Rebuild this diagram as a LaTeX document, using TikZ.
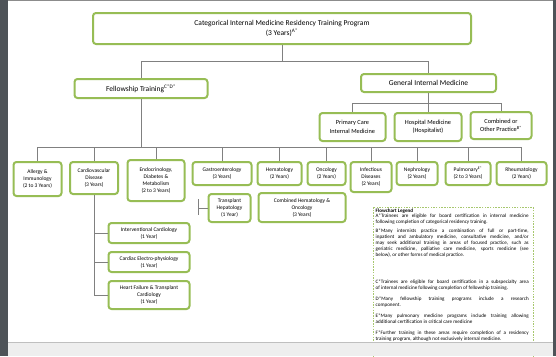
\documentclass[tikz,border=0pt]{standalone}
\usepackage{fontspec}
\setmainfont{Carlito}
\usetikzlibrary{calc}
\definecolor{gborder}{HTML}{97BD55}
\definecolor{conncol}{HTML}{808080}
\definecolor{darkbar}{HTML}{4E5358}
\definecolor{pagegrey}{HTML}{EEEEEE}
\tikzset{
  bx/.style={draw=gborder, line width=2pt, rounded corners=3pt, fill=white, inner sep=1pt, align=center, font=\fontsize{5.5}{7}\selectfont},
  bigbx/.style={bx, font=\fontsize{7.5}{9.5}\selectfont},
  midbx/.style={bx, font=\fontsize{6.3}{8.5}\selectfont},
  cn/.style={draw=conncol, line width=0.6pt},
  legbox/.style={draw=gborder!85, line width=0.6pt, dash pattern=on 1.5pt off 1.2pt},
  legpar/.style={anchor=north west, text width=153pt, align=justify, inner sep=0pt, font=\fontsize{5.1}{6.1}\selectfont},
}
\begin{document}
\begin{tikzpicture}[x=1pt,y=-1pt]
\useasboundingbox (0,0) rectangle (556,356);
\fill[white] (0,0) rectangle (556,356);

% top level
\node[bigbx, minimum width=378, minimum height=31] (top) at (282,28.5) {Categorical Internal Medicine Residency Training Program\\(3 Years)\textsuperscript{A*}};
\node[bigbx, minimum width=133, minimum height=19] (fell) at (141,88.5) {Fellowship Training\textsuperscript{C*D*}};
\node[bigbx, minimum width=135, minimum height=18] (gim) at (428.5,83) {General Internal Medicine};

% GIM children
\node[midbx, minimum width=66, minimum height=28] (prim) at (352.5,127) {Primary Care\\Internal Medicine};
\node[midbx, minimum width=67, minimum height=28] (hosp) at (428,127) {Hospital Medicine\\(Hospitalist)};
\node[midbx, minimum width=61, minimum height=27] (comb) at (501,125.5) {Combined or\\Other Practice\textsuperscript{B*}};

% subspecialties
\node[bx, minimum width=48, minimum height=34] (allergy) at (37.5,179) {Allergy \&\\Immunology\\(2 to 3 Years)};
\node[bx, minimum width=48, minimum height=32] (cardio) at (94,178) {Cardiovascular\\Disease\\(3 Years)};
\node[bx, minimum width=57, minimum height=41] (endo) at (156,180.5) {Endocrinology,\\Diabetes \&\\Metabolism\\(2 to 3 Years)};
\node[bx, minimum width=59, minimum height=23] (gastro) at (222,173.5) {Gastroenterology\\(3 Years)};
\node[bx, minimum width=44, minimum height=23] (hema) at (279.5,173.5) {Hematology\\(2 Years)};
\node[bx, minimum width=38, minimum height=23] (onco) at (326.5,173.5) {Oncology\\(2 Years)};
\node[bx, minimum width=41, minimum height=30] (infect) at (371,177) {Infectious\\Diseases\\(2 Years)};
\node[bx, minimum width=41, minimum height=23] (nephro) at (417,173.5) {Nephrology\\(2 Years)};
\node[bx, minimum width=45, minimum height=23] (pulm) at (468,173.5) {Pulmonary\textsuperscript{E*}\\(2 to 3 Years)};
\node[bx, minimum width=50, minimum height=23] (rheum) at (521.5,173.5) {Rheumatology\\(2 Years)};

% second level
\node[bx, minimum width=42, minimum height=28] (transp) at (229.5,208) {Transplant\\Hepatology\\(1 Year)};
\node[bx, minimum width=87, minimum height=29] (hemonc) at (302,207.5) {Combined Hematology \&\\Oncology\\(3 Years)};
\node[bx, minimum width=81, minimum height=20] (interv) at (149,233) {Interventional Cardiology\\(1 Year)};
\node[bx, minimum width=81, minimum height=20] (electro) at (149,262) {Cardiac Electro-physiology\\(1 Year)};
\node[bx, minimum width=81, minimum height=28] (hf) at (149,295) {Heart Failure \& Transplant\\Cardiology\\(1 Year)};

% connectors
\coordinate (bus1) at (0,61);
\coordinate (bus2) at (0,103);
\coordinate (bus3) at (0,147);
\draw[cn] (top.south) -- (top.south |- bus1);
\draw[cn] (fell.north) -- (fell.north |- bus1) -- (gim.north |- bus1) -- (gim.north);
\draw[cn] (gim.south) -- (gim.south |- bus2);
\draw[cn] (prim.north) -- (prim.north |- bus2) -- (comb.north |- bus2) -- (comb.north);
\draw[cn] (hosp.north) -- (hosp.north |- bus2);
\draw[cn] (fell.south) -- (fell.south |- bus3);
\draw[cn] (allergy.north) -- (allergy.north |- bus3) -- (rheum.north |- bus3) -- (rheum.north);
\foreach \n in {cardio,endo,gastro,hema,onco,infect,nephro,pulm}
  \draw[cn] (\n.north) -- (\n.north |- bus3);
% cardio subtree
\draw[cn] (cardio.south) -- (cardio.south |- hf.west) -- (hf.west);
\draw[cn] (cardio.south |- interv.west) -- (interv.west);
\draw[cn] (cardio.south |- electro.west) -- (electro.west);
% gastro subtree
\coordinate (g1) at (198,199);
\coordinate (g2) at (198,215);
\draw[cn] (g1) -- (g2);
\draw[cn] (g1 |- transp.west) -- (transp.west);

% legend
\draw[legbox] (373,207) rectangle (533,360);
\node[legpar] (legtitle) at (375.5,208.4) {\textbf{Flowchart Legend}};
\node[legpar] (legA) at (375.5,213.6) {A*Trainees are eligible for board certification in internal medicine\linebreak following completion of categorical residency training.};
\node[legpar] (legB) at (375.5,228.7) {B*Many internists practice a combination of full or part-time,\linebreak inpatient and ambulatory medicine, consultative medicine, and/or\linebreak may seek additional training in areas of focused practice, such as\linebreak geriatric medicine, palliative care medicine, sports medicine (see\linebreak below), or other forms of medical practice.};
\node[legpar] (legC) at (375.5,279.2) {C*Trainees are eligible for board certification in a subspecialty area\linebreak of internal medicine following completion of fellowship training.};
\node[legpar] (legD) at (375.5,296.2) {D*Many fellowship training programs include a research\linebreak component.};
\node[legpar] (legE) at (375.5,313.2) {E*Many pulmonary medicine programs include training allowing\linebreak additional certification in critical care medicine};
\node[legpar] (legF) at (375.5,330.7) {F*Further training in these areas require completion of a residency\linebreak training program, although not exclusively internal medicine.};

% page frame
\fill[pagegrey] (0,342) rectangle (556,356);
\draw[draw=black!25, line width=0.6pt] (0,342) -- (556,342);
\fill[black!45] (0,0) rectangle (556,1);
\fill[darkbar] (0,0) rectangle (8,356);
\fill[darkbar] (553,0) rectangle (556,356);
\end{tikzpicture}
\end{document}
